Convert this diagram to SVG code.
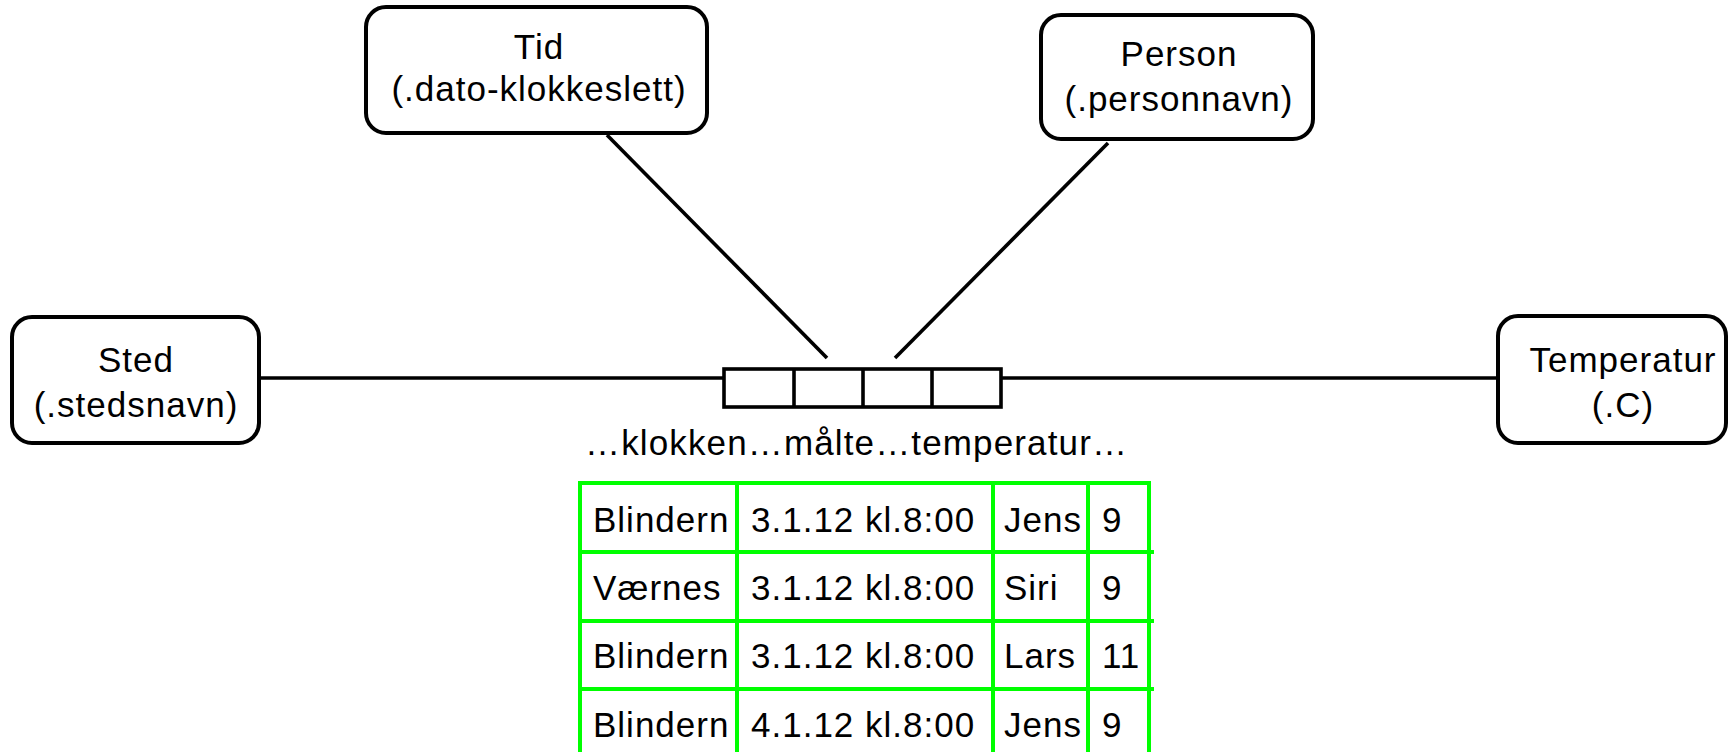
<svg xmlns="http://www.w3.org/2000/svg" width="1728" height="752" viewBox="0 0 1728 752">
<style>
.node rect{fill:#ffffff;stroke:#000000;stroke-width:4}
.conn line{stroke:#000000;stroke-width:3.6}
text{font-family:"Liberation Sans",Arial,sans-serif;font-size:35px;fill:#000000;letter-spacing:1px}
.c{text-anchor:middle}
.grid line{stroke:#00ff00;stroke-width:4}
.rel rect{fill:#ffffff;stroke:#000000;stroke-width:3.6}
.rel line{stroke:#000000;stroke-width:3.6}
</style>
<rect width="1728" height="752" fill="#ffffff"/>
<g id="connectors" class="conn">
<line x1="259" y1="378" x2="724" y2="378"/>
<line x1="1001" y1="378" x2="1498" y2="378"/>
<line x1="607" y1="135" x2="827" y2="358"/>
<line x1="1108" y1="143" x2="895" y2="358"/>
</g>
<g id="relation" class="rel">
<rect x="724" y="369" width="277" height="38"/>
<line x1="794" y1="369" x2="794" y2="407"/>
<line x1="863" y1="369" x2="863" y2="407"/>
<line x1="932" y1="369" x2="932" y2="407"/>
<text x="585" y="455" textLength="543" lengthAdjust="spacing">…klokken…målte…temperatur…</text>
</g>
<g id="sted" class="node">
<rect x="12" y="317" width="247" height="126" rx="20" ry="20"/>
<text class="c" x="136" y="372">Sted</text>
<text class="c" x="136" y="417">(.stedsnavn)</text>
</g>
<g id="tid" class="node">
<rect x="366" y="7" width="341" height="126" rx="20" ry="20"/>
<text class="c" x="539" y="59">Tid</text>
<text class="c" x="539" y="101">(.dato-klokkeslett)</text>
</g>
<g id="person" class="node">
<rect x="1041" y="15" width="272" height="124" rx="20" ry="20"/>
<text class="c" x="1179" y="66">Person</text>
<text class="c" x="1179" y="111">(.personnavn)</text>
</g>
<g id="temperatur" class="node">
<rect x="1498" y="316" width="228" height="127" rx="20" ry="20"/>
<text class="c" x="1623" y="372">Temperatur</text>
<text class="c" x="1623" y="417">(.C)</text>
</g>
<g id="table">
<g class="grid">
<line x1="580" y1="483" x2="1149" y2="483"/>
<line x1="580" y1="552" x2="1154" y2="552"/>
<line x1="580" y1="621" x2="1154" y2="621"/>
<line x1="580" y1="689" x2="1154" y2="689"/>
<line x1="580" y1="481" x2="580" y2="752"/>
<line x1="737" y1="481" x2="737" y2="752"/>
<line x1="993" y1="481" x2="993" y2="752"/>
<line x1="1088" y1="481" x2="1088" y2="752"/>
<line x1="1149" y1="481" x2="1149" y2="752"/>
</g>
<text x="593" y="532">Blindern</text>
<text x="751" y="532">3.1.12 kl.8:00</text>
<text x="1004" y="532">Jens</text>
<text x="1102" y="532">9</text>
<text x="593" y="600">Værnes</text>
<text x="751" y="600">3.1.12 kl.8:00</text>
<text x="1004" y="600">Siri</text>
<text x="1102" y="600">9</text>
<text x="593" y="668">Blindern</text>
<text x="751" y="668">3.1.12 kl.8:00</text>
<text x="1004" y="668">Lars</text>
<text x="1102" y="668">11</text>
<text x="593" y="737">Blindern</text>
<text x="751" y="737">4.1.12 kl.8:00</text>
<text x="1004" y="737">Jens</text>
<text x="1102" y="737">9</text>
</g>
</svg>
